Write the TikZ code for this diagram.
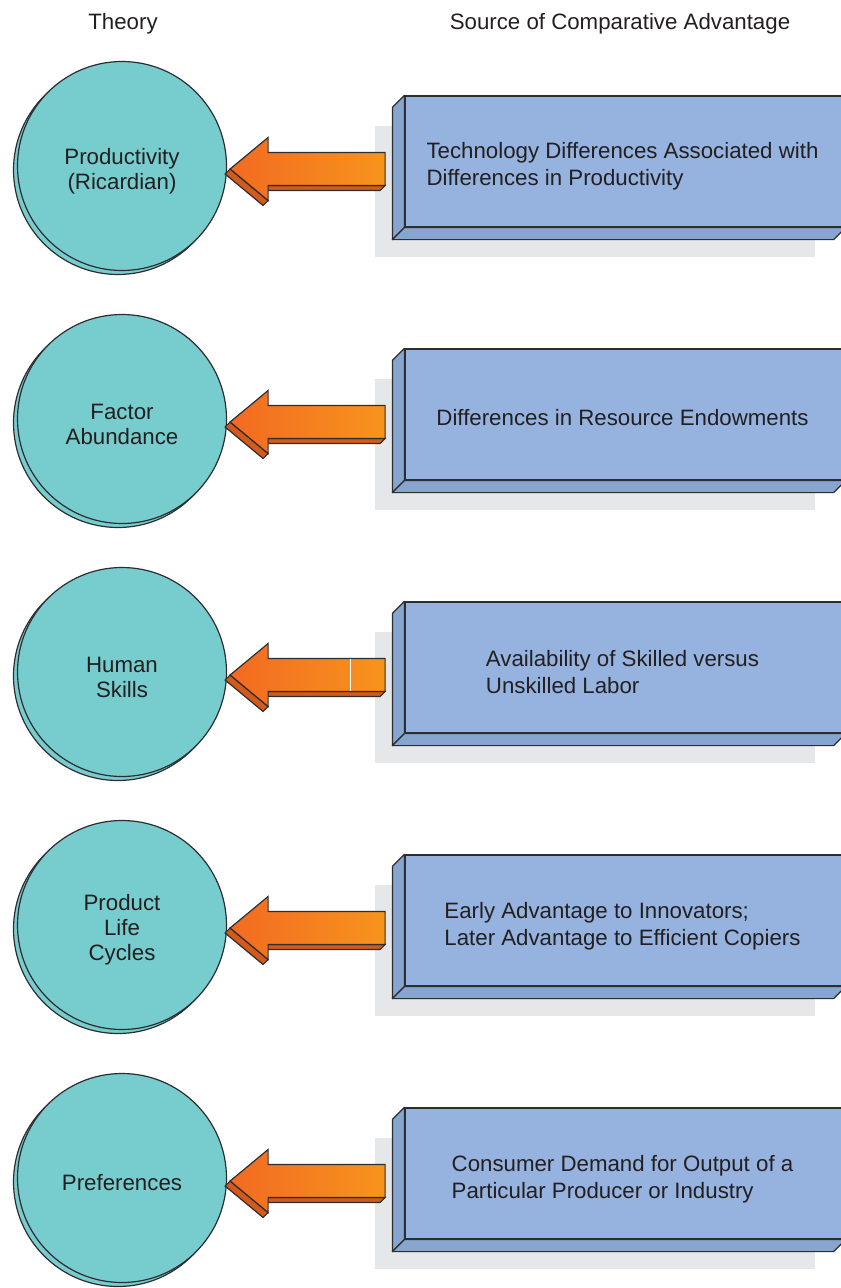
\documentclass[tikz,border=0pt]{standalone}
\usepackage{fontspec}
\setmainfont{Liberation Sans}
\usetikzlibrary{calc,shadows}
\definecolor{circlefill}{RGB}{119, 204, 206}
\definecolor{boxfront}{RGB}{149, 179, 222}
\definecolor{boxside}{RGB}{135, 166, 207}
\definecolor{boxshadow}{RGB}{230, 231, 233}
\definecolor{arrowdark}{RGB}{242, 106, 33}
\definecolor{arrowlight}{RGB}{247, 148, 29}
\definecolor{arrowside}{RGB}{212, 90, 28}
\definecolor{edgegray}{RGB}{45, 45, 48}
\definecolor{textgray}{RGB}{35, 31, 32}

\tikzset{
    pics/blockarrow/.style={code={
        \filldraw[fill=arrowside, draw=edgegray, line width=0.9pt] (0,0) -- (38,31.5) -- (33,36.5) -- (-5,5) -- cycle;
        \filldraw[fill=arrowside, draw=edgegray, line width=0.9pt] (38,16.5) -- (155,16.5) -- (150,21.5) -- (33,21.5) -- cycle;
        \draw[draw=edgegray, line width=0.9pt, left color=arrowdark, right color=arrowlight] (155,-16.5) -- (38,-16.5) -- (38,-31.5) -- (0,0) -- (38,31.5) -- (38,16.5) -- (155,16.5) -- cycle;
    }}
}

\begin{document}
\begin{tikzpicture}[
    x=0.75pt, y=-0.75pt,
    every node/.style={text=textgray, font=\fontsize{16.7}{20.25}\selectfont},
    theory/.style={circle, draw=edgegray, line width=0.9pt, fill=circlefill, minimum size=156.75pt, inner sep=0pt, copy shadow={shadow xshift=-3pt, shadow yshift=-3pt}},
    theorytext/.style={align=center, inner sep=0pt, font=\fontsize{16.7}{18.75}\selectfont},
    source/.style={rectangle, draw=edgegray, line width=0.9pt, fill=boxfront, minimum width=330pt, minimum height=98.25pt, inner sep=0pt, general shadow={shadow xshift=-22.5pt, shadow yshift=-22.5pt, fill=boxshadow, draw=none}},
    sourcetext/.style={align=left, inner sep=0pt},
    side/.style={draw=edgegray, line width=0.9pt, fill=boxside, line join=round}
]
    \useasboundingbox (0,0) rectangle (840,1288);

    \node[anchor=base] (theoryhead) at (123, 30) {Theory};
    \node[anchor=base] (sourcehead) at (620, 30) {Source of Comparative Advantage};

    % row 1
    \node[theory] (ricardian) at (122, 166) {};
    \node[theorytext] (ricardiantext) at ($(ricardian)+(0,5)$) {Productivity\\(Ricardian)};
    \node[source] (technology) at (625, 161.5) {};
    \node[sourcetext] (technologytext) at ($(technology)+(-2.5,5)$) {Technology Differences Associated with\\Differences in Productivity};
    \filldraw[side] (technology.north west) -- (technology.south west) -- ++(-12,12) -- ($(technology.north west)+(-12,12)$) -- cycle;
    \filldraw[side] (technology.south west) -- (technology.south east) -- ++(-12,12) -- ($(technology.south west)+(-12,12)$) -- cycle;
    \pic at ($(ricardian.east)+(3,3)$) {blockarrow};

    % row 2
    \node[theory] (factor) at (122, 419) {};
    \node[theorytext] (factortext) at ($(factor)+(0,5)$) {Factor\\Abundance};
    \node[source] (endowment) at (625, 414.5) {};
    \node[sourcetext] (endowmenttext) at ($(endowment)+(-2.5,3)$) {Differences in Resource Endowments};
    \filldraw[side] (endowment.north west) -- (endowment.south west) -- ++(-12,12) -- ($(endowment.north west)+(-12,12)$) -- cycle;
    \filldraw[side] (endowment.south west) -- (endowment.south east) -- ++(-12,12) -- ($(endowment.south west)+(-12,12)$) -- cycle;
    \pic at ($(factor.east)+(3,3)$) {blockarrow};

    % row 3
    \node[theory] (human) at (122, 672) {};
    \node[theorytext] (humantext) at ($(human)+(0,5)$) {Human\\Skills};
    \node[source] (skilled) at (625, 667.5) {};
    \node[sourcetext] (skilledtext) at ($(skilled)+(-2.5,5)$) {Availability of Skilled versus\\Unskilled Labor};
    \filldraw[side] (skilled.north west) -- (skilled.south west) -- ++(-12,12) -- ($(skilled.north west)+(-12,12)$) -- cycle;
    \filldraw[side] (skilled.south west) -- (skilled.south east) -- ++(-12,12) -- ($(skilled.south west)+(-12,12)$) -- cycle;
    \pic at ($(human.east)+(3,3)$) {blockarrow};
    \draw[white, line width=0.75pt] ($(human.east)+(123,-13)$) -- ++(0,32);

    % row 4
    \node[theory] (lifecycle) at (122, 925) {};
    \node[theorytext] (lifecycletext) at ($(lifecycle)+(0,5)$) {Product\\Life\\Cycles};
    \node[source] (innovator) at (625, 920.5) {};
    \node[sourcetext] (innovatortext) at ($(innovator)+(-2.5,6)$) {Early Advantage to Innovators;\\Later Advantage to Efficient Copiers};
    \filldraw[side] (innovator.north west) -- (innovator.south west) -- ++(-12,12) -- ($(innovator.north west)+(-12,12)$) -- cycle;
    \filldraw[side] (innovator.south west) -- (innovator.south east) -- ++(-12,12) -- ($(innovator.south west)+(-12,12)$) -- cycle;
    \pic at ($(lifecycle.east)+(3,3)$) {blockarrow};

    % row 5
    \node[theory] (preference) at (122, 1178) {};
    \node[theorytext] (preferencetext) at ($(preference)+(0,5)$) {Preferences};
    \node[source] (demand) at (625, 1173.5) {};
    \node[sourcetext] (demandtext) at ($(demand)+(-2.5,6)$) {Consumer Demand for Output of a\\Particular Producer or Industry};
    \filldraw[side] (demand.north west) -- (demand.south west) -- ++(-12,12) -- ($(demand.north west)+(-12,12)$) -- cycle;
    \filldraw[side] (demand.south west) -- (demand.south east) -- ++(-12,12) -- ($(demand.south west)+(-12,12)$) -- cycle;
    \pic at ($(preference.east)+(3,3)$) {blockarrow};
\end{tikzpicture}
\end{document}
